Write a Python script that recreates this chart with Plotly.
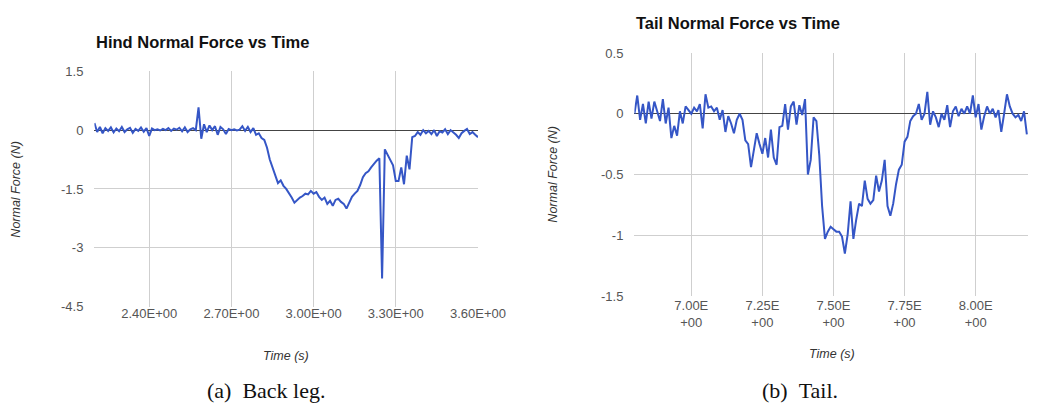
import plotly.graph_objects as go

# ---------------- data: hind (back leg) ----------------
hind_time = [
    2.20, 2.21, 2.22, 2.23, 2.24, 2.25, 2.26, 2.27, 2.28, 2.29,
    2.30, 2.31, 2.32, 2.33, 2.34, 2.35, 2.36, 2.37, 2.38, 2.39,
    2.40, 2.41, 2.42, 2.43, 2.44, 2.45, 2.46, 2.47, 2.48, 2.49,
    2.50, 2.51, 2.52, 2.53, 2.54, 2.55, 2.56, 2.57, 2.58, 2.59,
    2.60, 2.61, 2.62, 2.63, 2.64, 2.65, 2.66, 2.67, 2.68, 2.69,
    2.70, 2.71, 2.72, 2.73, 2.74, 2.75, 2.76, 2.77, 2.78, 2.79,
    2.80, 2.81, 2.82, 2.83, 2.84, 2.85, 2.86, 2.87, 2.88, 2.89,
    2.90, 2.91, 2.92, 2.93, 2.94, 2.95, 2.96, 2.97, 2.98, 2.99,
    3.00, 3.01, 3.02, 3.03, 3.04, 3.05, 3.06, 3.07, 3.08, 3.09,
    3.10, 3.11, 3.12, 3.13, 3.14, 3.15, 3.16, 3.17, 3.18, 3.19,
    3.20, 3.21, 3.22, 3.23, 3.24, 3.25, 3.26, 3.27, 3.28, 3.29,
    3.30, 3.31, 3.32, 3.33, 3.34, 3.35, 3.36, 3.37, 3.38, 3.39,
    3.40, 3.41, 3.42, 3.43, 3.44, 3.45, 3.46, 3.47, 3.48, 3.49,
    3.50, 3.51, 3.52, 3.53, 3.54, 3.55, 3.56, 3.57, 3.58, 3.59,
    3.60,
]
hind_force = [
    0.18, -0.05, 0.08, -0.08, 0.05, -0.02, 0.07, -0.06, 0.04, -0.03,
    0.08, -0.05, 0.02, 0.06, -0.07, 0.03, -0.02, 0.07, -0.04, 0.05,
    -0.15, 0.04, 0.00, 0.02, -0.01, 0.03, 0.00, 0.05, -0.02, 0.04,
    0.01, 0.06, -0.03, 0.07, -0.05, 0.02, 0.05, 0.00, 0.58, -0.22,
    0.15, -0.05, 0.12, 0.00, 0.10, -0.12, 0.08, 0.02, -0.10, 0.03,
    0.00, 0.02, -0.01, 0.01, 0.10, -0.02, 0.08, -0.05, 0.05, -0.12,
    -0.08, -0.20, -0.25, -0.45, -0.75, -0.95, -1.10, -1.35, -1.28, -1.42,
    -1.50, -1.60, -1.72, -1.85, -1.78, -1.72, -1.68, -1.62, -1.64, -1.55,
    -1.62, -1.58, -1.70, -1.78, -1.72, -1.88, -1.80, -1.93, -1.78, -1.75,
    -1.83, -1.88, -2.00, -1.85, -1.70, -1.62, -1.55, -1.40, -1.20, -1.10,
    -1.05, -0.95, -0.85, -0.78, -0.72, -3.78, -0.49, -0.62, -0.78, -0.90,
    -1.30, -1.30, -0.95, -1.38, -0.65, -1.00, -0.18, -0.15, -0.05, -0.12,
    0.00, -0.08, -0.02, -0.10, 0.00, -0.15, -0.03, -0.06, 0.02, -0.10,
    0.00, -0.05, -0.12, -0.20, -0.08, -0.02, 0.03, -0.10, -0.05, -0.12,
    -0.18,
]

# ---------------- data: tail ----------------
tail_time = [
    6.80, 6.81, 6.82, 6.83, 6.84, 6.85, 6.86, 6.87, 6.88, 6.89,
    6.90, 6.91, 6.92, 6.93, 6.94, 6.95, 6.96, 6.97, 6.98, 6.99,
    7.00, 7.01, 7.02, 7.03, 7.04, 7.05, 7.06, 7.07, 7.08, 7.09,
    7.10, 7.11, 7.12, 7.13, 7.14, 7.15, 7.16, 7.17, 7.18, 7.19,
    7.20, 7.21, 7.22, 7.23, 7.24, 7.25, 7.26, 7.27, 7.28, 7.29,
    7.30, 7.31, 7.32, 7.33, 7.34, 7.35, 7.36, 7.37, 7.38, 7.39,
    7.40, 7.41, 7.42, 7.43, 7.44, 7.45, 7.46, 7.47, 7.48, 7.49,
    7.50, 7.51, 7.52, 7.53, 7.54, 7.55, 7.56, 7.57, 7.58, 7.59,
    7.60, 7.61, 7.62, 7.63, 7.64, 7.65, 7.66, 7.67, 7.68, 7.69,
    7.70, 7.71, 7.72, 7.73, 7.74, 7.75, 7.76, 7.77, 7.78, 7.79,
    7.80, 7.81, 7.82, 7.83, 7.84, 7.85, 7.86, 7.87, 7.88, 7.89,
    7.90, 7.91, 7.92, 7.93, 7.94, 7.95, 7.96, 7.97, 7.98, 7.99,
    8.00, 8.01, 8.02, 8.03, 8.04, 8.05, 8.06, 8.07, 8.08, 8.09,
    8.10, 8.11, 8.12, 8.13, 8.14, 8.15, 8.16, 8.17, 8.18,
]
tail_force = [
    0.00, 0.15, -0.05, 0.08, -0.08, 0.10, -0.04, 0.10, 0.02, -0.06,
    0.12, -0.08, 0.05, -0.20, -0.10, -0.18, 0.02, -0.08, 0.06, 0.03,
    0.00, 0.05, 0.02, 0.08, -0.12, 0.16, 0.05, 0.06, 0.02, 0.05,
    -0.05, 0.03, -0.15, -0.02, -0.08, -0.16, -0.05, 0.00, -0.05, -0.22,
    -0.25, -0.44, -0.30, -0.16, -0.25, -0.33, -0.20, -0.36, -0.13, -0.36,
    -0.42, -0.11, -0.10, 0.08, -0.13, 0.06, 0.10, -0.09, 0.07, -0.01,
    0.12, -0.50, -0.38, -0.03, -0.06, -0.34, -0.76, -1.03, -0.97, -0.93,
    -0.95, -0.97, -0.97, -1.01, -1.15, -0.99, -0.72, -1.03, -0.87, -0.74,
    -0.76, -0.55, -0.70, -0.74, -0.71, -0.51, -0.64, -0.55, -0.38, -0.76,
    -0.84, -0.74, -0.58, -0.46, -0.42, -0.23, -0.19, -0.06, -0.02, 0.00,
    0.08, -0.05, 0.00, 0.18, -0.09, 0.02, -0.03, -0.11, 0.00, -0.05,
    0.07, -0.11, 0.02, 0.06, -0.02, 0.04, 0.00, 0.06, 0.00, 0.15,
    -0.03, 0.08, -0.13, -0.02, 0.06, 0.00, 0.04, -0.03, 0.03, -0.15,
    0.00, 0.16, 0.06, 0.00, -0.03, -0.01, -0.06, 0.02, -0.17,
]

hind_xticks = [2.4, 2.7, 3.0, 3.3, 3.6]
hind_xticklabels = ["2.40E+00", "2.70E+00", "3.00E+00", "3.30E+00", "3.60E+00"]
hind_yticks = [1.5, 0, -1.5, -3, -4.5]
hind_yticklabels = ["1.5", "0", "-1.5", "-3", "-4.5"]

tail_xticks = [7.0, 7.25, 7.5, 7.75, 8.0]
tail_xticklabels = ["7.00E<br>+00", "7.25E<br>+00", "7.50E<br>+00", "7.75E<br>+00", "8.00E<br>+00"]
tail_yticks = [0.5, 0, -0.5, -1, -1.5]
tail_yticklabels = ["0.5", "0", "-0.5", "-1", "-1.5"]

W, H = 1056, 411
LINE = "#3556c6"
GRID = "#cfcfcf"
TICKC = "#555555"
SANS = "Liberation Sans, Arial, sans-serif"
SERIF = "Liberation Serif, Times New Roman, serif"


def px(x):
    return x / W


def py(y):
    return 1 - y / H


fig = go.Figure()
fig.add_trace(go.Scatter(x=hind_time, y=hind_force, mode="lines",
                         line=dict(color=LINE, width=2), xaxis="x", yaxis="y",
                         showlegend=False, hoverinfo="skip"))
fig.add_trace(go.Scatter(x=tail_time, y=tail_force, mode="lines",
                         line=dict(color=LINE, width=2), xaxis="x2", yaxis="y2",
                         showlegend=False, hoverinfo="skip"))

common_x = dict(showgrid=True, gridcolor=GRID, gridwidth=1, zeroline=False,
                showline=False, ticks="", tickfont=dict(family=SANS, size=13, color=TICKC),
                tickmode="array", fixedrange=True)
common_y = dict(showgrid=True, gridcolor=GRID, gridwidth=1, zeroline=True,
                zerolinecolor="#444444", zerolinewidth=1, showline=False, ticks="",
                tickfont=dict(family=SANS, size=13, color=TICKC), tickmode="array",
                fixedrange=True)

fig.update_layout(
    width=W, height=H,
    margin=dict(l=0, r=0, t=0, b=0),
    paper_bgcolor="white", plot_bgcolor="white",
    xaxis=dict(common_x, domain=[px(97), px(491)], range=[2.2, 3.6],
               tickvals=hind_xticks, ticktext=hind_xticklabels, anchor="y",
               ticklabelstandoff=-3),
    yaxis=dict(common_y, domain=[py(311), py(66.7)], range=[-4.5, 1.5],
               tickvals=hind_yticks, ticktext=hind_yticklabels, anchor="x",
               ticklabelstandoff=10),
    xaxis2=dict(common_x, domain=[px(651.7), 1.0], range=[6.8, 8.184],
                tickvals=tail_xticks, ticktext=tail_xticklabels, anchor="y2",
                ticklabelstandoff=0),
    yaxis2=dict(common_y, domain=[py(300), py(47.7)], range=[-1.5, 0.5],
                tickvals=tail_yticks, ticktext=tail_yticklabels, anchor="x2",
                ticklabelstandoff=10),
)

ann = []
ann.append(dict(text="<b>Hind Normal Force vs Time</b>", x=px(97), y=py(36.7),
                xanchor="left", yanchor="middle", showarrow=False,
                font=dict(family=SANS, size=16.5, color="#111111")))
ann.append(dict(text="<b>Tail Normal Force vs Time</b>", x=px(651.7), y=py(16.7),
                xanchor="left", yanchor="middle", showarrow=False,
                font=dict(family=SANS, size=16.5, color="#111111")))
ann.append(dict(text="<i>Normal Force (N)</i>", x=px(17), y=py(189), textangle=-90,
                xanchor="center", yanchor="middle", showarrow=False,
                font=dict(family=SANS, size=12.5, color="#333333")))
ann.append(dict(text="<i>Normal Force (N)</i>", x=px(568), y=py(173), textangle=-90,
                xanchor="center", yanchor="middle", showarrow=False,
                font=dict(family=SANS, size=12.5, color="#333333")))
ann.append(dict(text="<i>Time (s)</i>", x=px(294), y=py(362),
                xanchor="center", yanchor="middle", showarrow=False,
                font=dict(family=SANS, size=12.5, color="#333333")))
ann.append(dict(text="<i>Time (s)</i>", x=px(855), y=py(360),
                xanchor="center", yanchor="middle", showarrow=False,
                font=dict(family=SANS, size=12.5, color="#333333")))
ann.append(dict(text="(a)\u00a0\u00a0Back leg.", x=px(274), y=py(398),
                xanchor="center", yanchor="middle", showarrow=False,
                font=dict(family=SERIF, size=22, color="#111111")))
ann.append(dict(text="(b)\u00a0\u00a0Tail.", x=px(822), y=py(398),
                xanchor="center", yanchor="middle", showarrow=False,
                font=dict(family=SERIF, size=22, color="#111111")))
for a in ann:
    a["xref"] = "paper"
    a["yref"] = "paper"
fig.update_layout(annotations=ann)

fig.write_html("out.html", config={"displayModeBar": False})
